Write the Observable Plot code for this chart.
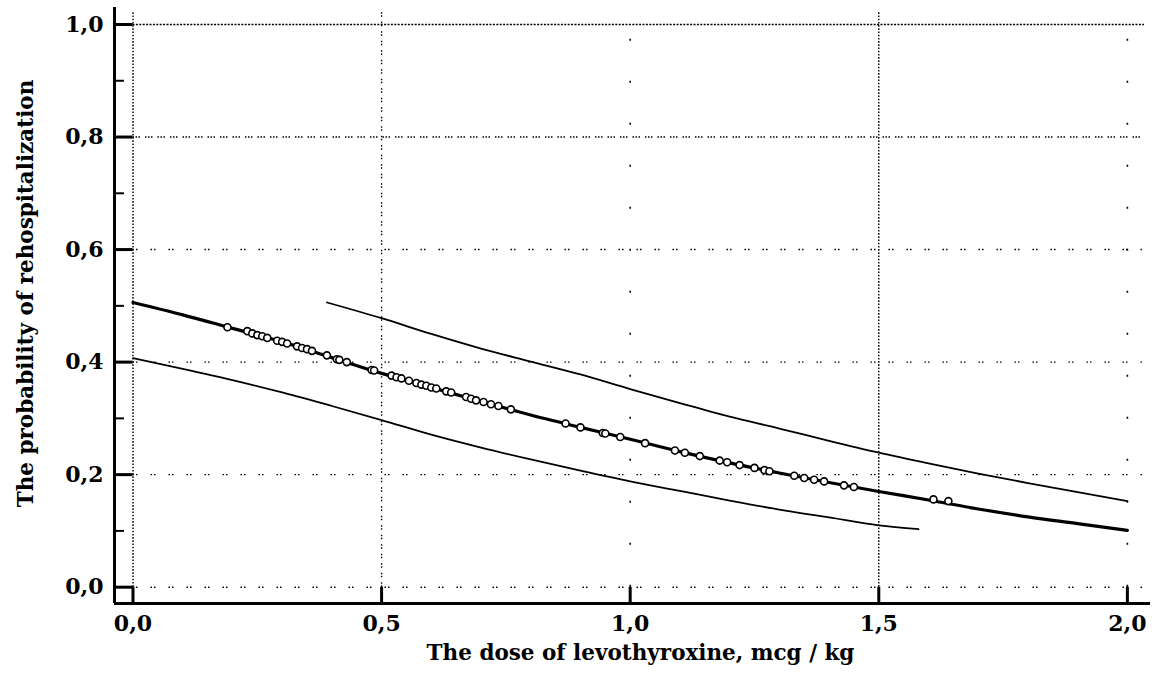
<!DOCTYPE html>
<html>
<head>
<meta charset="utf-8">
<script src="https://cdn.jsdelivr.net/npm/d3@7"></script>
<script src="https://cdn.jsdelivr.net/npm/@observablehq/plot@0.6"></script>
<style>
  html, body { margin: 0; padding: 0; background: white; }
</style>
</head>
<body>
<div id="chart"></div>
<script>
// ---- data ----
const xTitle = "The dose of levothyroxine, mcg / kg";
const yTitle = "The probability of rehospitalization";

const xTicks = [0, 0.5, 1.0, 1.5, 2.0];
const yTicks = [0, 0.2, 0.4, 0.6, 0.8, 1.0];
const yMinorTicks = [0.1, 0.3, 0.5, 0.7, 0.9];

// fitted probability curve
const mainX = [0, 0.1, 0.2, 0.3, 0.4, 0.5, 0.6, 0.7, 0.8, 0.9, 1.0, 1.1, 1.2, 1.3, 1.4, 1.5, 1.6, 1.7, 1.8, 1.9, 2.0];
const mainY = [0.506, 0.484, 0.460, 0.436, 0.408, 0.380, 0.355, 0.330, 0.306, 0.284, 0.263, 0.241, 0.221, 0.203, 0.186, 0.170, 0.155, 0.139, 0.125, 0.113, 0.101];

// lower confidence band
const lowerX = [0, 0.1, 0.2, 0.3, 0.4, 0.5, 0.6, 0.7, 0.8, 0.9, 1.0, 1.1, 1.2, 1.3, 1.4, 1.5, 1.58];
const lowerY = [0.407, 0.388, 0.368, 0.346, 0.322, 0.297, 0.271, 0.248, 0.227, 0.207, 0.188, 0.171, 0.154, 0.138, 0.124, 0.110, 0.103];

// upper confidence band
const upperX = [0.39, 0.5, 0.6, 0.7, 0.8, 0.9, 1.0, 1.1, 1.2, 1.3, 1.4, 1.5, 1.6, 1.7, 1.8, 1.9, 2.0];
const upperY = [0.506, 0.478, 0.450, 0.424, 0.401, 0.378, 0.352, 0.327, 0.303, 0.282, 0.260, 0.239, 0.220, 0.202, 0.185, 0.169, 0.153];

// observed points (circles)
const pointX = [0.19, 0.23, 0.24, 0.25, 0.26, 0.27, 0.29, 0.30, 0.31, 0.33, 0.34, 0.35, 0.36, 0.39, 0.41, 0.415, 0.43,
  0.48, 0.485, 0.52, 0.53, 0.54, 0.555, 0.57, 0.58, 0.59, 0.60, 0.61, 0.63, 0.64, 0.67, 0.68, 0.69, 0.705, 0.72, 0.735, 0.76,
  0.87, 0.90, 0.945, 0.95, 0.98, 1.03, 1.09, 1.11, 1.14, 1.18, 1.195, 1.22, 1.25, 1.27, 1.28, 1.33, 1.35, 1.37, 1.39,
  1.43, 1.45, 1.61, 1.64];
const pointY = [0.462, 0.455, 0.451, 0.448, 0.446, 0.443, 0.438, 0.436, 0.433, 0.428, 0.425, 0.423, 0.420, 0.412, 0.405, 0.404, 0.400,
  0.386, 0.385, 0.376, 0.373, 0.371, 0.367, 0.363, 0.360, 0.358, 0.355, 0.353, 0.348, 0.346, 0.338, 0.335, 0.332, 0.329, 0.325, 0.322, 0.316,
  0.291, 0.284, 0.274, 0.273, 0.267, 0.256, 0.243, 0.239, 0.233, 0.225, 0.222, 0.217, 0.212, 0.208, 0.206, 0.198, 0.194, 0.191, 0.188,
  0.181, 0.178, 0.156, 0.153];

// ---- build tables ----
const main = mainX.map((x, i) => ({x, y: mainY[i]}));
const lower = lowerX.map((x, i) => ({x, y: lowerY[i]}));
const upper = upperX.map((x, i) => ({x, y: upperY[i]}));
const points = pointX.map((x, i) => ({x, y: pointY[i]}));

// ---- layout ----
const xDomain = [-0.0372, 2.0465];
const yDomain = [-0.029, 1.0302];
const gridRight = 2.0344;
const gridTop = 1.0213;
const minorEnd = xDomain[0] + 0.02;
const fmt = d => d.toFixed(1).replace(".", ",");

const chart = Plot.plot({
  width: 1154,
  height: 675,
  marginLeft: 114,
  marginRight: 4,
  marginTop: 7,
  marginBottom: 72,
  x: {domain: xDomain},
  y: {domain: yDomain},
  style: {fontFamily: "'DejaVu Serif', serif", fontWeight: "bold", fontSize: "22px", color: "black", background: "white"},
  marks: [
    // horizontal gridlines
    Plot.ruleY(yTicks.filter(d => d === 1.0), {x1: 0, x2: gridRight, stroke: "black", strokeWidth: 1.4, strokeDasharray: "2,1.4"}),
    Plot.ruleY(yTicks.filter(d => d === 0.8), {x1: 0, x2: gridRight, stroke: "black", strokeWidth: 1.4, strokeDasharray: "1.5,1.5,1.5,1.5,1.5,5"}),
    Plot.ruleY(yTicks.filter(d => d < 0.7), {x1: 0, x2: gridRight, stroke: "black", strokeWidth: 1.4, strokeDasharray: "1.5,2,1.5,13"}),
    // vertical gridlines
    Plot.ruleX(xTicks.filter(d => d === 0 || d === 1.5), {y1: 0, y2: gridTop, stroke: "black", strokeWidth: 1.4, strokeDasharray: "1.6,1.6"}),
    Plot.ruleX(xTicks.filter(d => d === 0.5), {y1: 0, y2: gridTop, stroke: "black", strokeWidth: 1.4, strokeDasharray: "1.5,1.5,1.5,5"}),
    Plot.ruleX(xTicks.filter(d => d === 1.0 || d === 2.0), {y1: 0, y2: gridTop, stroke: "black", strokeWidth: 1.6, strokeDasharray: "2,40"}),
    // curves
    Plot.line(lower, {x: "x", y: "y", stroke: "black", strokeWidth: 1.8, curve: "monotone-x"}),
    Plot.line(upper, {x: "x", y: "y", stroke: "black", strokeWidth: 1.8, curve: "monotone-x"}),
    Plot.line(main, {x: "x", y: "y", stroke: "black", strokeWidth: 3.2, curve: "monotone-x"}),
    Plot.dot(points, {x: "x", y: "y", r: 3.5, fill: "white", stroke: "black", strokeWidth: 1.6}),
    // ticks (inward)
    Plot.ruleY(yTicks, {x1: xDomain[0], x2: 0, stroke: "black", strokeWidth: 3}),
    Plot.ruleY(yMinorTicks, {x1: xDomain[0], x2: minorEnd, stroke: "black", strokeWidth: 2}),
    Plot.ruleX(xTicks, {y1: yDomain[0], y2: 0, stroke: "black", strokeWidth: 3}),
    // axis lines
    Plot.ruleX([xDomain[0]], {y1: yDomain[0], y2: yDomain[1], stroke: "black", strokeWidth: 3}),
    Plot.ruleY([yDomain[0]], {x1: xDomain[0], x2: xDomain[1], stroke: "black", strokeWidth: 3}),
    // tick labels
    Plot.axisX({ticks: xTicks, tickSize: 0, tickPadding: 12, tickFormat: fmt, label: null, fontSize: 22}),
    Plot.axisY({ticks: yTicks, tickSize: 0, tickPadding: 11, tickFormat: fmt, label: null, fontSize: 22}),
    // axis titles
    Plot.text([xTitle], {text: d => d, frameAnchor: "bottom", dy: 56, dx: 8, fontSize: 21.5, fontWeight: "bold", textAnchor: "middle"}),
    Plot.text([yTitle], {text: d => d, frameAnchor: "left", dx: -88, dy: -12, rotate: -90, fontSize: 21.5, fontWeight: "bold", textAnchor: "middle"})
  ]
});
document.getElementById("chart").appendChild(chart);
</script>
</body>
</html>
